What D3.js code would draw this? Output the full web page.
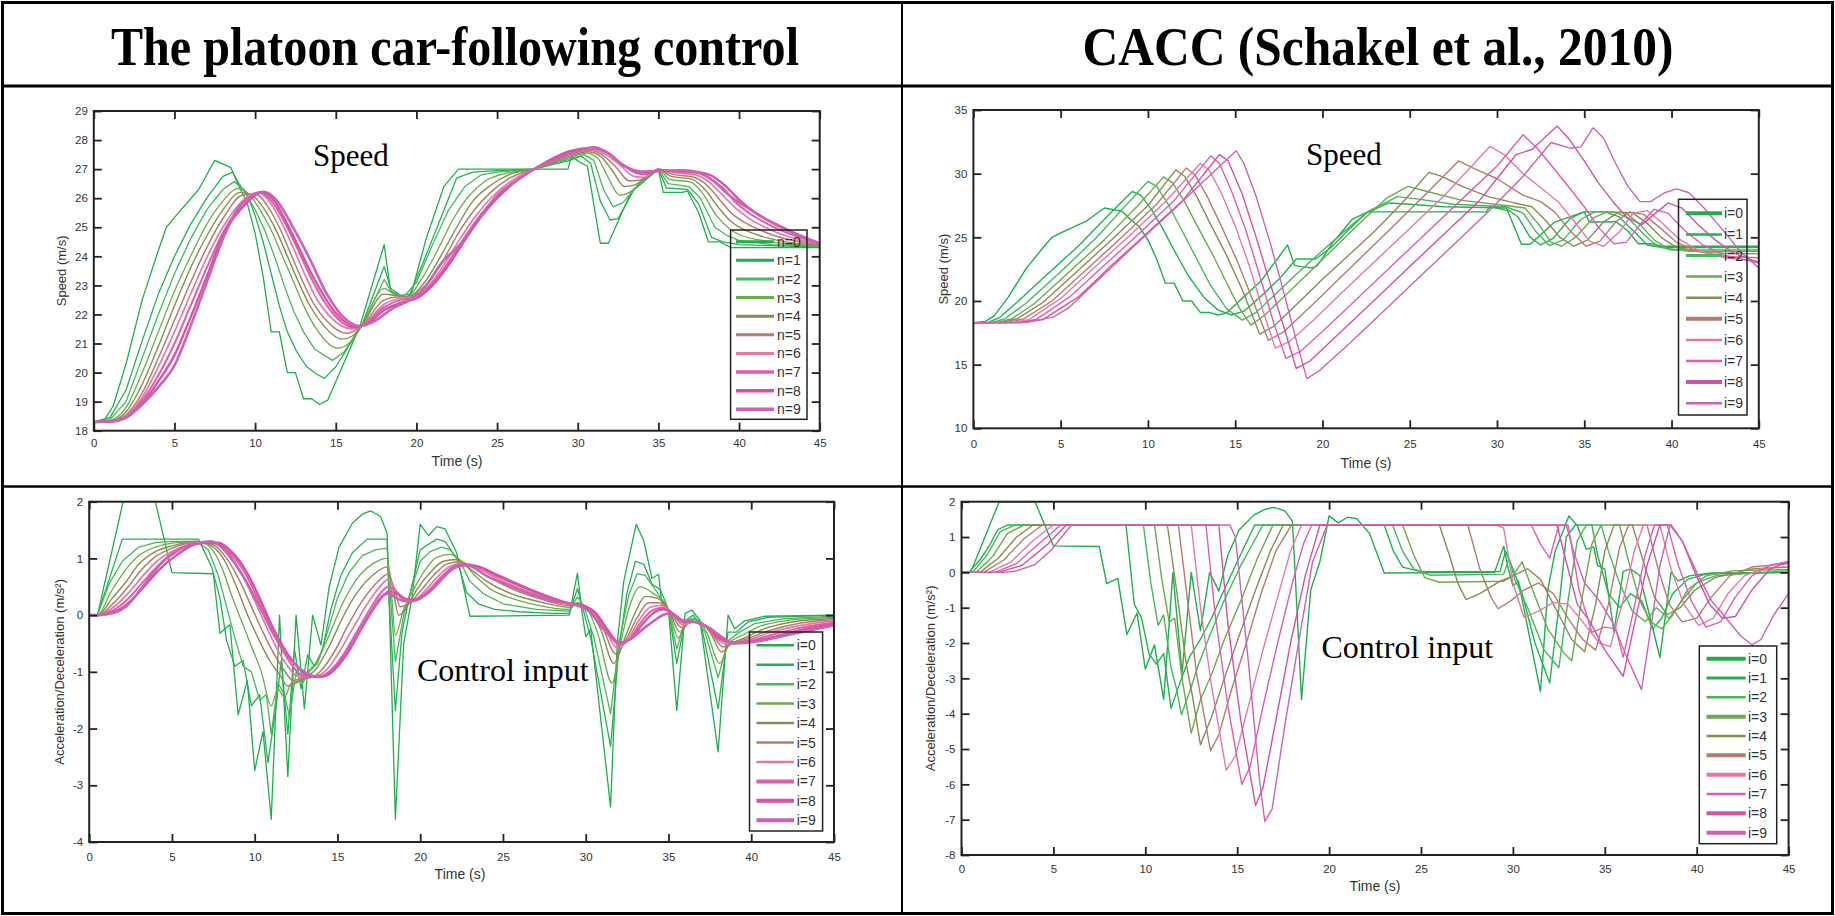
<!DOCTYPE html>
<html>
<head>
<meta charset="utf-8">
<script src="https://cdn.jsdelivr.net/npm/d3@7"></script>
<style>
  body { margin: 0; background: #fff; }
  svg { display: block; }
</style>
</head>
<body>
<svg id="chart" width="1835" height="916"></svg>
<script>
// ---------------- DATA ----------------
const titles = ["The platoon car-following control", "CACC (Schakel et al., 2010)"];
const timeTicks = [0, 5, 10, 15, 20, 25, 30, 35, 40, 45];
const speedTicksPlatoon = [18, 19, 20, 21, 22, 23, 24, 25, 26, 27, 28, 29];
const speedTicksCacc = [10, 15, 20, 25, 30, 35];
const accTicksPlatoon = [-4, -3, -2, -1, 0, 1, 2];
const accTicksCacc = [-8, -7, -6, -5, -4, -3, -2, -1, 0, 1, 2];
const labelsN = ["n=0","n=1","n=2","n=3","n=4","n=5","n=6","n=7","n=8","n=9"];
const labelsI = ["i=0","i=1","i=2","i=3","i=4","i=5","i=6","i=7","i=8","i=9"];

// leader (vehicle 0) speed, m/s, [time s, value]
const leaderSpeed = [[0,18.3],[0.7,18.4],[1.2,18.85],[2,20.3],[3,22.5],[4,24.2],[4.5,25.0],[5.1,25.4],[6.5,26.3],[7.5,27.3],[8.5,27.05],[9,26.4],[9.5,25.85],[10,24.8],[10.5,23.3],[11,21.4],[11.5,21.4],[12,20.0],[12.5,20.0],[13,19.1],[13.5,19.1],[14,18.9],[14.5,19.05],[16.5,21.6],[18,24.4],[18.4,22.8],[18.8,22.7],[19.4,22.6],[19.7,22.75],[20.6,24.6],[21.7,26.4],[22.6,27.0],[29.4,27.0],[29.6,27.45],[30.1,27.25],[30.6,27.1],[31.4,24.45],[31.9,24.45],[32.5,25.2],[33.3,26.2],[35,27.0],[35.3,26.2],[36.5,26.2],[36.8,26.25],[37.5,25.5],[38.1,24.5],[38.8,24.5],[39.5,24.3],[45,24.3]];
// leader acceleration, m/s^2
const leaderAccel = [[0,0],[0.5,0],[2.05,2.0],[4.0,2.0],[5.0,0.75],[7.5,0.73],[7.9,-0.32],[8.5,-0.17],[9.0,-1.76],[9.55,-1.15],[10.0,-2.74],[10.5,-2.05],[11.0,-3.6],[11.5,0],[12.0,-2.85],[12.5,0],[13.0,-1.65],[13.5,0],[14.0,-0.53],[14.5,0.5],[15.1,1.2],[15.9,1.62],[16.5,1.78],[17.0,1.84],[17.6,1.74],[18.0,1.45],[18.1,0.5],[18.5,-3.6],[19.0,-0.5],[19.5,0.3],[20.0,1.6],[20.5,1.4],[21.0,1.56],[21.5,1.52],[22.2,1.1],[23.0,-0.02],[29.0,0],[29.5,0.74],[29.75,0.1],[30.0,-0.38],[30.3,-0.25],[31.5,-3.38],[31.9,-0.5],[32.3,0.6],[33.05,1.6],[33.5,1.32],[34.0,0.65],[34.4,0.72],[34.6,0.2],[35.0,0.09],[35.5,-1.68],[36.0,0.03],[36.4,0.09],[36.9,-0.09],[38.0,-2.41],[38.6,0],[39.0,-0.24],[39.6,-0.1],[40.8,-0.02],[45,0]];

// Platoon control: speed of followers n=1..9
const tlN1 = [[0,18.3],[1,18.45],[2,19.4],[3,21.1],[4,22.7],[5,24.0],[6,25.1],[7,26.0],[8,26.75],[8.6,26.9],[9,26.5],[9.6,26.0],[10,25.4],[10.5,24.5],[11,23.4],[11.5,22.3],[12,21.4],[12.6,20.7],[13.2,20.2],[13.8,19.95],[14.3,19.8],[15,20.2],[16.6,21.6],[18,23.65],[18.4,22.9],[19,22.65],[19.6,22.7],[20.5,23.9],[21.5,25.3],[22.5,26.7],[23.5,26.9],[25,26.95],[27.3,27.0],[29.5,27.3],[30.2,27.45],[30.8,27.2],[31.4,25.9],[32,25.25],[32.5,25.3],[33.5,26.3],[35,27.0],[35.5,26.35],[36.8,26.3],[37.5,25.8],[38.3,24.65],[39,24.5],[40,24.4],[45,24.32]];
const tlN2 = [[0,18.3],[1,18.38],[2,19.0],[3,20.5],[4,22.0],[5,23.4],[6,24.6],[7,25.6],[8,26.3],[8.7,26.57],[9.3,26.3],[10,25.6],[10.6,24.9],[11.2,24.0],[11.8,23.0],[12.4,22.1],[13,21.4],[13.7,20.8],[14.8,20.42],[15.5,20.7],[16.6,21.6],[18,23.2],[18.5,22.75],[19.2,22.6],[20,23.1],[21,24.4],[22,25.6],[23,26.4],[24,26.8],[25,26.9],[27.3,27.0],[29.5,27.35],[30.4,27.5],[31,27.3],[31.6,26.3],[32.2,25.7],[32.8,25.85],[33.8,26.5],[35,27.0],[35.6,26.5],[36.9,26.4],[37.6,26.0],[38.5,25.0],[39.3,24.7],[40,24.55],[42,24.4],[45,24.34]];
const tlN3 = [[0,18.3],[1,18.35],[2,18.8],[3,20.0],[4,21.4],[5,22.8],[6,24.0],[7,25.1],[8,25.9],[8.9,26.33],[9.6,26.15],[10.3,25.6],[11,24.9],[11.7,24.0],[12.4,23.1],[13.1,22.2],[13.8,21.5],[15.1,20.84],[15.8,21.0],[16.6,21.6],[18,22.9],[18.6,22.7],[19.4,22.6],[20.3,23.2],[21.3,24.2],[22.3,25.3],[23.3,26.1],[24.3,26.6],[25.5,26.85],[27.3,27.0],[29.5,27.4],[30.5,27.55],[31.2,27.4],[31.9,26.7],[32.6,26.1],[33.2,26.2],[34.1,26.65],[35,27.0],[35.7,26.65],[37,26.55],[37.7,26.2],[38.6,25.4],[39.4,24.95],[40,24.75],[42,24.5],[45,24.36]];
const tlN4 = [[0,18.3],[1,18.33],[2,18.65],[3,19.6],[4,20.9],[5,22.3],[6,23.6],[7,24.7],[8,25.6],[9.1,26.2],[9.8,26.1],[10.6,25.6],[11.3,24.9],[12,24.0],[12.7,23.1],[13.4,22.3],[14.2,21.65],[15.4,21.15],[16,21.25],[16.6,21.6],[18,22.7],[18.7,22.65],[19.5,22.6],[20.5,23.1],[21.5,24.0],[22.5,25.0],[23.5,25.9],[24.5,26.4],[25.7,26.8],[27.3,27.0],[29.5,27.45],[30.6,27.6],[31.4,27.45],[32.2,26.9],[32.9,26.4],[33.5,26.45],[34.3,26.75],[35,27.0],[35.8,26.75],[37.1,26.65],[37.8,26.35],[38.7,25.7],[39.5,25.2],[40.2,24.95],[42,24.6],[45,24.38]];
const tlN5 = [[0,18.3],[1,18.32],[2,18.55],[3,19.3],[4,20.5],[5,21.8],[6,23.1],[7,24.3],[8,25.3],[9.2,26.1],[10,26.15],[10.8,25.7],[11.5,25.0],[12.2,24.1],[12.9,23.2],[13.6,22.4],[14.4,21.8],[15.7,21.35],[16.6,21.6],[18,22.5],[18.8,22.6],[19.6,22.6],[20.6,23.0],[21.6,23.8],[22.6,24.8],[23.6,25.6],[24.6,26.2],[25.8,26.7],[27.3,27.0],[29.5,27.5],[30.7,27.65],[31.5,27.5],[32.4,27.05],[33.2,26.6],[33.8,26.62],[34.5,26.82],[35,27.0],[35.9,26.82],[37.2,26.72],[37.9,26.5],[38.8,25.95],[39.6,25.45],[40.4,25.15],[42,24.75],[45,24.4]];
const tlN6 = [[0,18.3],[1,18.31],[2,18.5],[3,19.15],[4,20.2],[5,21.4],[6,22.7],[7,23.95],[8,25.0],[9.3,25.95],[10.2,26.2],[11,25.8],[11.7,25.1],[12.4,24.25],[13.1,23.35],[13.8,22.55],[14.6,21.95],[16,21.5],[16.6,21.6],[18,22.35],[18.9,22.55],[19.7,22.6],[20.7,22.95],[21.7,23.7],[22.7,24.6],[23.7,25.4],[24.7,26.05],[25.9,26.6],[27.3,27.0],[29.5,27.55],[30.8,27.68],[31.6,27.55],[32.6,27.15],[33.5,26.75],[34.1,26.72],[34.6,26.88],[35,27.0],[36,26.88],[37.3,26.8],[38,26.62],[38.9,26.15],[39.7,25.7],[40.5,25.35],[42,24.9],[45,24.42]];
const tlN7 = [[0,18.3],[1,18.31],[2,18.47],[3,19.05],[4,19.9],[5,21.0],[6,22.3],[7,23.6],[8,24.8],[9.4,25.9],[10.3,26.2],[11.1,25.85],[11.9,25.1],[12.6,24.3],[13.3,23.45],[14,22.7],[14.8,22.05],[16.1,21.55],[16.6,21.6],[18,22.25],[19,22.5],[19.8,22.58],[20.8,22.95],[21.8,23.65],[22.8,24.5],[23.8,25.3],[24.8,25.95],[26,26.55],[27.3,27.0],[29.5,27.6],[30.9,27.72],[31.7,27.6],[32.7,27.2],[33.7,26.85],[34.3,26.82],[34.7,26.92],[35,26.98],[36,26.92],[37.4,26.87],[38.1,26.72],[39,26.35],[39.8,25.85],[40.6,25.5],[42,25.05],[45,24.43]];
const tlN8 = [[0,18.3],[1,18.31],[2,18.45],[3,18.95],[4,19.7],[5,20.6],[6,21.9],[7,23.3],[8,24.7],[9.5,25.85],[10.4,26.2],[11.2,25.9],[12,25.1],[12.8,24.2],[13.5,23.4],[14.2,22.7],[15,22.05],[16.3,21.58],[17,21.7],[18,22.15],[19,22.4],[20,22.55],[21,23.0],[22,23.7],[23,24.55],[24,25.35],[25,26.0],[26.1,26.55],[27.3,27.0],[29.5,27.62],[31,27.74],[31.8,27.58],[32.8,27.15],[33.8,26.9],[34.5,26.88],[35,26.95],[36,26.95],[37.5,26.9],[38.2,26.8],[39.1,26.45],[40,25.95],[41,25.5],[42.5,25.05],[45,24.44]];
const tlN9 = [[0,18.3],[1,18.32],[2,18.45],[3,18.9],[4,19.5],[5,20.25],[6,21.6],[7,23.1],[8,24.6],[9,25.7],[10,26.15],[10.5,26.22],[11.3,25.95],[12.3,25.05],[13.4,23.9],[14.4,22.75],[15.4,21.95],[16.5,21.6],[17.5,21.8],[18.5,22.2],[19.6,22.5],[20.6,23.0],[21.6,23.8],[22.7,24.4],[24,25.4],[25,26.1],[26.2,26.6],[27.3,27.0],[28.5,27.3],[30,27.62],[31,27.75],[31.9,27.55],[32.9,27.1],[33.9,26.92],[35,26.93],[36.5,26.96],[37.5,26.88],[38.5,26.55],[39.5,26.05],[40.6,25.65],[42.3,25.08],[44.1,24.63],[45,24.45]];

// CACC: speed of followers i=1..9
const trI1 = [[0,18.3],[0.8,18.3],[1.5,18.7],[2.5,19.9],[4,21.8],[6,24.3],[8,27.1],[9.1,28.6],[9.6,28.3],[10.2,27.2],[10.8,25.8],[11.5,24.0],[12.3,22.0],[13.2,20.3],[14,19.3],[14.8,18.9],[15.5,19.2],[16.5,20.4],[17.5,21.7],[18.5,23.3],[19.6,23.3],[20.5,24.2],[21.5,25.6],[22.5,26.9],[23.8,27.7],[25,27.6],[27,27.4],[30.5,27.3],[31.2,26.6],[31.9,25.0],[32.5,24.4],[33.2,24.9],[34.2,26.5],[35,27.0],[36.2,27.0],[37,26.6],[37.9,25.4],[38.6,24.4],[39.5,24.2],[45,24.2]];
const trI2 = [[0,18.3],[1.0,18.3],[1.8,18.6],[3,19.8],[5,22.3],[7,24.9],[9,27.9],[10.0,29.4],[10.5,29.0],[11.2,27.5],[12,25.4],[12.8,23.3],[13.6,21.2],[14.5,19.4],[15.4,18.5],[16.2,19.1],[17.2,20.4],[18.5,22.1],[19.7,23.6],[20.7,24.8],[21.7,26.0],[22.7,27.1],[24.3,28.2],[25.5,28.0],[27.5,27.6],[30.5,27.4],[31.5,26.9],[32.2,25.5],[33,24.35],[33.8,24.8],[34.8,26.4],[35.6,27.0],[36.8,27.0],[37.6,26.4],[38.5,25.1],[39.2,24.3],[40,24.0],[45,24.0]];
const trI3 = [[0,18.3],[1.3,18.3],[2.2,18.6],[3.5,19.8],[5.5,22.3],[7.5,24.8],[9.5,27.6],[10.9,29.75],[11.4,29.3],[12.1,27.8],[12.9,25.7],[13.8,23.4],[14.7,20.9],[15.3,19.3],[15.9,18.1],[16.7,18.9],[18,20.6],[19.5,22.6],[21,24.6],[22.5,26.6],[23.7,28.1],[24.9,29.0],[26,28.6],[28,27.9],[30.5,27.5],[31.6,27.3],[32.4,26.0],[33.1,24.6],[33.7,24.3],[34.5,25.0],[35.5,26.5],[36.3,27.0],[37.4,26.9],[38.2,26.0],[39,24.8],[39.8,24.1],[41,23.9],[45,23.9]];
const trI4 = [[0,18.3],[1.6,18.3],[2.5,18.6],[4,19.9],[6,22.4],[8,24.9],[10,27.5],[11.6,30.3],[12.1,29.8],[12.8,28.2],[13.6,26.0],[14.5,23.6],[15.4,20.9],[16.4,17.4],[17.2,18.0],[18.5,19.7],[20,21.7],[21.5,23.6],[23,25.5],[24.5,27.6],[26.1,30.1],[26.8,29.8],[28,29.0],[29.5,28.2],[31,27.7],[32,27.4],[32.8,26.3],[33.6,25.0],[34.4,24.3],[35.2,24.8],[36.1,26.2],[37,27.0],[37.8,26.9],[38.6,26.1],[39.4,25.0],[40.3,24.2],[42,23.8],[45,23.7]];
const trI5 = [[0,18.3],[1.9,18.3],[2.9,18.6],[4.5,20.0],[6.5,22.5],[8.5,25.0],[10.5,27.6],[12.2,30.45],[12.7,29.9],[13.4,28.2],[14.2,25.9],[15.1,23.2],[16,20.1],[16.9,16.9],[17.8,17.6],[19.5,19.8],[21,21.8],[22.5,23.8],[24,25.8],[26,28.5],[27.8,31.0],[28.7,30.4],[30,29.6],[31.5,28.3],[32.5,27.8],[33.3,27.0],[34.2,25.5],[35.1,24.3],[35.9,24.7],[36.8,26.2],[37.6,27.0],[38.4,26.8],[39.3,25.8],[40.3,24.6],[41.5,23.9],[43,23.5],[45,23.4]];
const trI6 = [[0,18.3],[2.2,18.3],[3.2,18.55],[5,20.2],[7,22.7],[9,25.2],[11,27.8],[13.0,30.8],[13.5,30.3],[14.2,28.5],[15,25.9],[15.8,22.8],[16.6,19.2],[17.3,16.3],[18.1,16.8],[19.5,18.5],[21,20.5],[23,23.1],[25,25.7],[27,28.3],[29.6,32.15],[30.4,31.5],[31.5,30.0],[32.6,28.8],[33.5,27.8],[34.4,26.3],[35.3,24.7],[36.1,24.3],[37,25.4],[37.8,26.9],[38.6,27.1],[39.4,26.2],[40.4,24.9],[41.5,24.0],[43,23.4],[45,23.1]];
const trI7 = [[0,18.3],[2.5,18.3],[3.6,18.55],[5.5,20.3],[7.5,22.8],[9.5,25.3],[11.5,27.9],[13.6,31.4],[14.1,30.8],[14.8,28.6],[15.6,25.6],[16.4,22.0],[17.2,18.3],[17.9,15.5],[18.7,16.0],[20,17.6],[22,20.2],[24,22.8],[26,25.4],[28,28.0],[30,30.6],[31.5,33.06],[32.3,32.0],[33.2,30.5],[34.2,28.8],[35,27.4],[35.8,25.8],[36.7,24.5],[37.4,24.6],[38.2,26.0],[39,27.2],[39.8,26.9],[40.7,25.6],[41.8,24.4],[43,23.6],[45,23.0]];
const trI8 = [[0,18.3],[2.8,18.3],[4,18.55],[6,20.3],[8,22.9],[10,25.4],[12,27.9],[14.1,31.5],[14.6,31.0],[15.4,28.4],[16.2,25.0],[17,21.4],[17.8,17.9],[18.5,14.7],[19.3,15.3],[21,17.5],[23,20.1],[25,22.7],[27,25.3],[29,27.9],[31.1,31.5],[32.0,31.9],[33.45,33.74],[34.2,32.6],[35,31.0],[35.8,29.3],[36.7,27.7],[37.5,26.5],[38.3,26.0],[39,26.8],[39.8,27.7],[40.6,27.3],[41.5,26.0],[42.5,24.8],[43.5,23.8],[45,23.0]];
const trI9 = [[0,18.3],[3.0,18.3],[4.6,18.75],[5.5,19.5],[7.5,22.1],[9.5,24.7],[11.5,27.2],[13.5,29.8],[15.06,31.8],[15.5,30.8],[16.2,28.2],[17,24.6],[17.8,20.6],[18.5,16.9],[19.1,13.9],[19.8,14.5],[21.5,16.6],[23.5,19.2],[25.5,21.8],[27.5,24.4],[29.5,27.0],[31.5,29.8],[33.1,32.45],[34.2,32.0],[34.8,32.1],[35.5,33.6],[36.1,32.8],[36.8,30.8],[37.5,29.0],[38.2,27.8],[38.8,27.8],[39.6,28.5],[40.3,28.8],[41,28.5],[41.8,27.4],[42.8,25.8],[44,23.8],[45,22.6]];

// Platoon control: control input of followers i=1..9
const blI1 = [[0,0],[0.5,0],[2.0,1.34],[6.6,1.34],[7.4,0.85],[7.9,0.3],[8.3,-0.45],[8.8,-0.9],[9.3,-0.8],[9.8,-1.6],[10.3,-1.4],[10.8,-2.6],[11.3,-1.6],[11.6,-0.8],[12.0,-2.1],[12.4,-0.6],[12.8,-1.3],[13.2,-0.7],[13.6,-0.9],[14.1,-0.6],[14.6,0.1],[15.2,0.7],[15.9,1.1],[16.8,1.34],[18.0,1.34],[18.1,0.4],[18.5,-1.68],[18.9,-0.3],[19.4,0.4],[20,1.15],[20.5,1.25],[21,1.34],[21.5,1.3],[22.2,1.0],[22.8,0.4],[23.5,0.2],[24.5,0.1],[26,0.06],[28,0.03],[29.0,0.03],[29.5,0.47],[29.8,0.15],[30.3,-0.4],[31.5,-2.32],[32.0,-0.6],[32.5,0.4],[33.0,0.95],[33.5,0.9],[34.0,0.55],[34.5,0.45],[35.0,0.1],[35.5,-0.85],[36.0,-0.1],[36.5,0.0],[37.0,-0.2],[38.0,-1.65],[38.6,-0.3],[39.1,-0.3],[39.8,-0.12],[41,-0.04],[45,0]];
const blI2 = [[0,0],[0.5,0],[1.2,0.55],[2,0.95],[3,1.2],[4,1.28],[5,1.3],[6.5,1.3],[7.2,1.15],[7.8,0.7],[8.3,0.15],[8.8,-0.4],[9.3,-0.9],[9.8,-1.0],[10.3,-1.5],[10.7,-1.4],[11.0,-2.1],[11.4,-1.2],[11.8,-1.4],[12.1,-1.8],[12.5,-1.0],[12.9,-1.2],[13.3,-1.0],[13.8,-0.85],[14.4,-0.3],[15,0.3],[15.7,0.75],[16.5,1.05],[17.3,1.15],[18.0,1.18],[18.15,0.5],[18.5,-0.82],[19,0.0],[19.5,0.5],[20,0.95],[20.6,1.12],[21.3,1.2],[21.8,1.15],[22.4,0.95],[23,0.6],[23.8,0.38],[25,0.2],[27,0.1],[29,0.07],[29.5,0.32],[29.9,0.15],[30.5,-0.4],[31.5,-1.74],[32.0,-0.5],[32.6,0.35],[33.1,0.73],[33.6,0.7],[34.2,0.45],[35.0,0.1],[35.5,-0.6],[36.0,-0.1],[36.6,-0.05],[37.2,-0.3],[38.0,-1.1],[38.6,-0.45],[39.3,-0.3],[40.2,-0.15],[42,-0.06],[45,-0.02]];
const blI3 = [[0,0],[0.5,0],[1.3,0.4],[2,0.72],[3,1.05],[4,1.2],[5,1.27],[6.5,1.3],[7.3,1.2],[8,0.85],[8.6,0.35],[9.2,-0.1],[9.8,-0.55],[10.4,-1.0],[11.0,-1.6],[11.4,-1.3],[11.8,-1.45],[12.2,-1.2],[12.7,-1.15],[13.2,-1.0],[13.8,-0.8],[14.5,-0.35],[15.3,0.2],[16.2,0.65],[17.1,0.9],[18.0,1.0],[18.2,0.6],[18.5,-0.35],[19.0,0.1],[19.6,0.45],[20.3,0.8],[21,1.02],[21.8,1.07],[22.5,0.95],[23.3,0.7],[24.3,0.45],[25.5,0.3],[27,0.18],[29,0.1],[29.5,0.22],[30,0.15],[30.7,-0.3],[31.6,-1.2],[32.1,-0.5],[32.7,0.2],[33.3,0.5],[34,0.4],[35.0,0.1],[35.6,-0.4],[36.1,-0.1],[36.7,-0.08],[37.3,-0.3],[38.1,-0.85],[38.7,-0.48],[39.5,-0.35],[40.5,-0.2],[42,-0.1],[45,-0.04]];
const blI4 = [[0,0],[0.5,0],[1.4,0.3],[2.2,0.58],[3,0.9],[4,1.12],[5,1.22],[6.5,1.3],[7.4,1.22],[8.2,0.95],[8.9,0.5],[9.5,0.05],[10.2,-0.4],[10.9,-0.8],[11.5,-1.05],[12,-1.25],[12.5,-1.2],[13.1,-1.1],[13.7,-0.95],[14.5,-0.55],[15.3,-0.05],[16.2,0.4],[17.2,0.72],[18.0,0.85],[18.3,0.55],[18.7,0.0],[19.2,0.15],[19.8,0.45],[20.6,0.75],[21.4,0.95],[22.2,0.98],[23,0.82],[24,0.6],[25.3,0.4],[27,0.25],[29,0.14],[29.6,0.2],[30.2,0.1],[30.9,-0.25],[31.7,-0.85],[32.3,-0.45],[33,0.05],[33.6,0.33],[34.3,0.3],[35.0,0.1],[35.7,-0.3],[36.3,-0.12],[36.9,-0.12],[37.6,-0.35],[38.2,-0.65],[38.8,-0.5],[39.6,-0.4],[40.7,-0.25],[42.5,-0.12],[45,-0.06]];
const blI5 = [[0,0],[0.5,0],[1.5,0.22],[2.3,0.48],[3.1,0.78],[4,1.03],[5,1.18],[6.5,1.29],[7.5,1.24],[8.3,1.0],[9.1,0.6],[9.8,0.15],[10.5,-0.3],[11.2,-0.7],[11.8,-0.98],[12.3,-1.15],[12.8,-1.12],[13.4,-1.1],[14,-0.98],[14.8,-0.65],[15.6,-0.2],[16.5,0.25],[17.4,0.58],[18.05,0.72],[18.4,0.5],[18.8,0.15],[19.3,0.2],[20,0.42],[20.8,0.7],[21.6,0.9],[22.4,0.94],[23.2,0.84],[24.2,0.66],[25.5,0.47],[27,0.31],[29,0.17],[29.6,0.19],[30.3,0.08],[31,-0.2],[31.8,-0.68],[32.4,-0.45],[33.1,-0.05],[33.8,0.22],[34.4,0.22],[35.0,0.1],[35.8,-0.22],[36.4,-0.12],[37,-0.14],[37.7,-0.36],[38.3,-0.56],[38.9,-0.5],[39.7,-0.42],[41,-0.28],[43,-0.14],[45,-0.08]];
const blI6 = [[0,0],[0.5,0],[1.6,0.17],[2.4,0.4],[3.2,0.68],[4.1,0.95],[5,1.12],[6.5,1.28],[7.6,1.26],[8.4,1.05],[9.3,0.68],[10,0.25],[10.7,-0.2],[11.4,-0.62],[12,-0.9],[12.6,-1.08],[13.1,-1.08],[13.7,-1.07],[14.3,-0.98],[15,-0.7],[15.8,-0.3],[16.7,0.15],[17.5,0.48],[18.05,0.62],[18.5,0.45],[19,0.25],[19.5,0.25],[20.2,0.4],[21,0.66],[21.8,0.86],[22.5,0.91],[23.3,0.85],[24.3,0.7],[25.6,0.52],[27,0.36],[29,0.19],[29.7,0.18],[30.4,0.06],[31.1,-0.2],[31.9,-0.58],[32.5,-0.45],[33.2,-0.1],[33.9,0.14],[34.5,0.17],[35.0,0.1],[35.9,-0.17],[36.5,-0.12],[37.1,-0.16],[37.8,-0.38],[38.4,-0.5],[39,-0.49],[39.8,-0.44],[41,-0.32],[43,-0.18],[45,-0.1]];
const blI7 = [[0,0],[0.5,0],[1.7,0.13],[2.5,0.33],[3.3,0.6],[4.2,0.88],[5.1,1.08],[6.5,1.27],[7.7,1.27],[8.5,1.1],[9.4,0.75],[10.2,0.28],[10.9,-0.18],[11.6,-0.58],[12.2,-0.86],[12.8,-1.05],[13.4,-1.09],[14,-1.08],[14.6,-0.98],[15.3,-0.72],[16.1,-0.33],[17,0.12],[17.7,0.42],[18.05,0.5],[18.6,0.4],[19.1,0.28],[19.6,0.27],[20.3,0.38],[21.1,0.62],[21.9,0.84],[22.6,0.9],[23.4,0.86],[24.4,0.72],[25.7,0.55],[27,0.39],[29,0.2],[29.7,0.18],[30.5,0.05],[31.2,-0.22],[32.0,-0.52],[32.6,-0.44],[33.3,-0.14],[34,0.08],[34.6,0.13],[35.0,0.08],[35.9,-0.13],[36.5,-0.12],[37.2,-0.18],[37.9,-0.38],[38.5,-0.47],[39.1,-0.48],[40,-0.45],[41.2,-0.35],[43,-0.22],[45,-0.13]];
const blI8 = [[0,0],[0.5,0],[1.8,0.1],[2.6,0.28],[3.4,0.53],[4.3,0.82],[5.2,1.04],[6.6,1.26],[7.8,1.28],[8.6,1.12],[9.5,0.77],[10.3,0.3],[11.0,-0.16],[11.7,-0.55],[12.4,-0.85],[13,-1.03],[13.6,-1.09],[14.2,-1.08],[14.8,-0.97],[15.5,-0.72],[16.3,-0.32],[17.2,0.12],[17.9,0.38],[18.1,0.42],[18.7,0.36],[19.2,0.28],[19.7,0.27],[20.4,0.37],[21.2,0.6],[22,0.82],[22.7,0.89],[23.5,0.86],[24.5,0.73],[25.8,0.56],[27,0.41],[29,0.21],[29.8,0.17],[30.6,0.04],[31.3,-0.25],[32.0,-0.48],[32.7,-0.43],[33.4,-0.17],[34.1,0.04],[34.7,0.1],[35.1,0.06],[36,-0.11],[36.6,-0.12],[37.3,-0.2],[38,-0.39],[38.7,-0.47],[39.3,-0.48],[40.2,-0.46],[41.4,-0.38],[43,-0.26],[45,-0.16]];
const blI9 = [[0,0],[0.5,0],[1.5,0.04],[2.4,0.2],[3.1,0.45],[3.8,0.72],[4.5,0.96],[5.25,1.13],[6.55,1.27],[7.36,1.3],[8.27,1.13],[9.27,0.7],[10.3,0.15],[11.3,-0.42],[12.3,-0.82],[13.3,-1.05],[13.9,-1.09],[14.7,-0.95],[15.9,-0.5],[16.9,0.0],[18.0,0.38],[18.9,0.26],[19.6,0.25],[20.75,0.47],[21.96,0.82],[22.8,0.88],[24.1,0.68],[26.1,0.44],[28.1,0.24],[29.1,0.2],[30.1,0.09],[31.3,-0.32],[32.1,-0.5],[32.75,-0.41],[33.75,-0.18],[35.0,0.03],[35.8,-0.09],[36.6,-0.12],[37.4,-0.21],[38.2,-0.38],[39.0,-0.5],[40.2,-0.47],[42.2,-0.35],[45,-0.18]];

// CACC: control input of followers i=1..9
const brI1 = [[0,0],[0.4,0],[1.0,0.35],[1.5,0.74],[1.96,1.2],[2.5,1.34],[8.95,1.34],[9.4,-0.9],[9.8,-1.3],[10.2,-2.3],[10.6,-2.6],[11.0,-2.3],[11.4,-3.85],[11.9,-3.1],[12.4,-2.4],[13.0,-1.9],[13.6,-1.3],[14.2,-0.6],[15,0.3],[15.95,1.34],[23.0,1.34],[23.5,0.6],[24,0.15],[25,0.02],[29.3,0.02],[29.6,0.6],[30,0.1],[30.5,-0.6],[31.2,-2.0],[32.0,-3.13],[32.5,-1.0],[32.9,1.0],[33.4,1.34],[34.3,1.34],[34.6,0.5],[35.2,-0.6],[35.8,-1.0],[36.4,-0.6],[37,-0.8],[37.6,-1.6],[38.1,-1.3],[38.7,-0.6],[39.5,-0.2],[40.5,-0.05],[45,0]];
const brI2 = [[0,0],[0.6,0],[1.4,0.5],[2.1,1.15],[2.9,1.34],[9.9,1.34],[10.3,-0.3],[10.7,-1.5],[11.0,-1.2],[11.4,-2.7],[11.7,-3.3],[11.96,-4.03],[12.4,-3.4],[12.9,-2.6],[13.5,-1.8],[14.2,-0.9],[15.2,0.2],[16.4,1.34],[23.45,1.34],[24.0,0.6],[24.6,0.1],[25.5,-0.08],[29.5,-0.05],[29.8,0.4],[30.1,-0.2],[30.8,-1.0],[31.7,-2.2],[32.5,-2.7],[33.0,-0.8],[33.5,0.9],[34.0,1.34],[34.8,1.34],[35.2,0.6],[35.8,-0.3],[36.5,-1.1],[37.2,-1.4],[37.8,-1.0],[38.5,-1.3],[39.2,-0.8],[40,-0.3],[41,-0.1],[45,0.05]];
const brI3 = [[0,0],[0.8,0],[1.7,0.45],[2.5,1.1],[3.4,1.34],[10.5,1.34],[10.9,-0.2],[11.3,-1.4],[11.6,-1.3],[12.0,-3.0],[12.5,-4.55],[13.0,-3.6],[13.6,-2.9],[14.3,-1.9],[15.2,-0.8],[16.1,0.4],[16.95,1.34],[24.0,1.34],[24.6,0.5],[25.2,-0.15],[26,-0.28],[29.5,-0.25],[30,-0.1],[30.5,0.3],[31,-0.4],[31.9,-1.6],[32.8,-2.3],[33.2,-2.5],[33.7,-0.9],[34.3,0.8],[34.8,1.34],[35.8,1.34],[36.3,0.3],[36.9,-0.8],[37.5,-1.4],[38.1,-1.6],[38.7,-1.2],[39.5,-0.5],[40.5,-0.1],[42,0.05],[45,0.08]];
const brI4 = [[0,0],[1.0,0],[2.0,0.4],[3.0,1.0],[3.9,1.34],[11.2,1.34],[11.7,-0.5],[12.2,-2.5],[12.6,-3.6],[13.0,-4.88],[13.6,-4.1],[14.3,-3.0],[15.1,-1.8],[16.0,-0.5],[16.8,0.6],[17.5,1.34],[26.0,1.34],[26.6,0.4],[27.0,-0.3],[27.45,-0.77],[28.2,-0.6],[29.3,-0.25],[30,-0.1],[30.8,0.1],[31.5,-0.2],[32.4,-1.1],[33.2,-1.9],[33.9,-2.25],[34.5,-0.9],[35.0,0.6],[35.5,1.34],[36.5,1.34],[37.1,0.3],[37.7,-0.7],[38.4,-1.2],[39.1,-1.0],[39.9,-0.5],[41,-0.15],[43,0.1],[45,0.15]];
const brI5 = [[0,0],[1.2,0],[2.3,0.35],[3.4,0.95],[4.4,1.34],[11.8,1.34],[12.3,-0.8],[12.8,-2.9],[13.55,-5.05],[14.0,-4.6],[14.7,-3.3],[15.5,-2.0],[16.3,-0.6],[17.1,0.6],[17.95,1.34],[27.55,1.34],[28.2,0.1],[28.8,-0.7],[29.2,-1.03],[29.9,-0.8],[30.6,-0.5],[31.4,-0.3],[32.2,-0.6],[33.0,-1.3],[33.8,-1.9],[34.5,-2.2],[35.2,-0.9],[35.8,0.7],[36.3,1.34],[37.3,1.34],[37.9,0.1],[38.5,-0.9],[39.2,-1.4],[40,-1.3],[40.8,-0.7],[41.8,-0.1],[43,0.15],[45,0.25]];
const brI6 = [[0,0],[1.5,0],[2.7,0.3],[3.9,0.9],[5.0,1.34],[12.5,1.34],[13.0,-1.0],[13.6,-3.2],[14.4,-5.6],[14.9,-5.2],[15.6,-3.8],[16.4,-2.2],[17.2,-0.7],[17.9,0.6],[18.5,1.34],[29.1,1.34],[29.5,1.25],[30.0,-0.3],[30.6,-1.27],[31.4,-1.1],[32.2,-0.85],[33.0,-0.9],[33.8,-1.4],[34.7,-2.0],[35.3,-2.1],[36.0,-0.8],[36.6,0.6],[37.1,1.34],[38.0,1.34],[38.6,0.1],[39.3,-0.9],[40.1,-1.5],[40.9,-1.3],[41.7,-0.6],[42.6,-0.1],[44,0.2],[45,0.3]];
const brI7 = [[0,0],[1.8,0],[3.0,0.25],[4.3,0.85],[5.4,1.34],[13.3,1.34],[13.8,-1.2],[14.5,-3.8],[15.25,-6.0],[15.7,-5.5],[16.4,-3.8],[17.2,-2.0],[18.0,-0.3],[18.6,0.8],[19.05,1.34],[31.0,1.34],[31.5,0.8],[32.0,0.4],[32.5,1.34],[33.0,1.34],[33.6,-0.5],[34.3,-1.7],[35.0,-1.55],[35.6,-1.6],[36.0,-2.4],[36.6,-1.0],[37.2,0.5],[37.7,1.34],[38.4,1.34],[39.0,0.2],[39.7,-0.8],[40.5,-1.55],[41.3,-1.4],[42.1,-0.7],[43,-0.1],[44,0.2],[45,0.3]];
const brI8 = [[0,0],[2.0,0],[3.3,0.2],[4.7,0.8],[5.7,1.34],[14.0,1.34],[14.5,-1.5],[15.2,-4.2],[16.0,-6.6],[16.4,-6.1],[17.1,-4.2],[17.9,-2.0],[18.7,-0.1],[19.5,1.34],[32.4,1.34],[32.9,0.3],[33.5,-0.9],[34.2,-1.4],[35.0,-2.2],[36.0,-2.94],[36.6,-1.5],[37.3,0.2],[38.0,1.34],[38.6,1.34],[39.2,0.9],[39.9,0.0],[40.7,-0.9],[41.4,-1.3],[42.1,-1.25],[43,-0.5],[44,0.1],[45,0.3]];
const brI9 = [[0,0],[2.2,0],[2.9,0.03],[4.0,0.22],[4.9,0.64],[5.6,1.1],[6.0,1.34],[14.6,1.34],[14.9,1.0],[15.6,-2.5],[16.2,-5.8],[16.5,-7.05],[16.9,-6.7],[17.6,-4.3],[18.4,-1.8],[19.1,0.3],[19.9,1.34],[32.9,1.34],[33.3,0.6],[33.9,-0.3],[34.7,-0.8],[35.4,-1.4],[36.2,-2.4],[37.0,-3.32],[37.5,-1.6],[38.0,0.2],[38.55,1.34],[39.2,0.9],[40,0.0],[40.8,-0.8],[41.6,-1.3],[42.4,-1.8],[43.0,-2.05],[43.5,-1.9],[44.2,-1.2],[45,-0.6]];

// ---------------- STYLE ----------------
const colors = ["#20ae4c","#22b152","#45b85b","#6aab4b","#8a8a55","#b47b70","#e47aa4","#e05dae","#d352a3","#cb63b3"];
const serif = "'Liberation Serif','Times New Roman',serif";
const sans = "'Liberation Sans',Arial,Helvetica,sans-serif";

const svg = d3.select("#chart");
svg.append("rect").attr("width",1835).attr("height",916).attr("fill","#fff");

// table grid
svg.append("rect").attr("x",2.5).attr("y",2.5).attr("width",1830).attr("height",911)
  .attr("fill","none").attr("stroke","#000").attr("stroke-width",3);
svg.append("line").attr("x1",2).attr("x2",1833).attr("y1",86).attr("y2",86).attr("stroke","#000").attr("stroke-width",3);
svg.append("line").attr("x1",2).attr("x2",1833).attr("y1",486.5).attr("y2",486.5).attr("stroke","#000").attr("stroke-width",2.5);
svg.append("line").attr("x1",902).attr("x2",902).attr("y1",2).attr("y2",914).attr("stroke","#000").attr("stroke-width",2);

// titles
const titleSpec = [{x:455, w:688}, {x:1378, w:591}];
titles.forEach((t,i)=>{
  svg.append("text").attr("x",titleSpec[i].x).attr("y",65).attr("text-anchor","middle")
    .attr("textLength",titleSpec[i].w).attr("lengthAdjust","spacingAndGlyphs")
    .style("font-family",serif).style("font-weight","bold").style("font-size","54px").attr("fill","#000").text(t);
});

const panels = [
  { x0:93.8, x1:819.7, y0:111, y1:430.7, yDom:[18,29], yTicks:speedTicksPlatoon,
    series:[leaderSpeed,tlN1,tlN2,tlN3,tlN4,tlN5,tlN6,tlN7,tlN8,tlN9], labels:labelsN, smoothFrom:3,
    widths:[1.3,1.3,1.3,1.3,1.4,1.5,1.7,2.0,2.3,2.6], legW:[3,3,3,3,3,3,3,3.5,3.5,3.5],
    leg:{x:730.6,y:230,w:76.4,h:189.3,first:241.7,step:18.62,l0:736,l1:774,tx:777},
    yLabel:"Speed (m/s)", yLabelX:66, xLabelX:457, xLabelY:466, xPad:8,
    note:{text:"Speed", x:313, y:166, size:31} },
  { x0:973.4, x1:1758.8, y0:110, y1:428.3, yDom:[10,35], yTicks:speedTicksCacc,
    series:[leaderSpeed,trI1,trI2,trI3,trI4,trI5,trI6,trI7,trI8,trI9], labels:labelsI, smoothFrom:null,
    widths:[1.4,1.4,1.4,1.4,1.4,1.4,1.4,1.4,1.4,1.4], legW:[4,2.5,3,2.5,2.5,4,2.5,2.5,4,2.5],
    leg:{x:1678.5,y:199.3,w:68.5,h:215.7,first:213.3,step:21.1,l0:1686,l1:1722,tx:1724},
    yLabel:"Speed (m/s)", yLabelX:948, xLabelX:1366, xLabelY:468, xPad:12,
    note:{text:"Speed", x:1306, y:165, size:31} },
  { x0:89.2, x1:834, y0:501.7, y1:842, yDom:[-4,2], yTicks:accTicksPlatoon,
    series:[leaderAccel,blI1,blI2,blI3,blI4,blI5,blI6,blI7,blI8,blI9], labels:labelsI, smoothFrom:3,
    widths:[1.3,1.3,1.3,1.3,1.4,1.5,1.7,2.0,2.3,2.6], legW:[2.5,2.5,2.5,2.5,2.5,2.5,2.5,4,4,4],
    leg:{x:749.5,y:632,w:73.1,h:199,first:645.3,step:19.44,l0:756.4,l1:794,tx:796.7},
    yLabel:"Acceleration/Deceleration (m/s²)", yLabelX:64, xLabelX:460, xLabelY:879, xPad:11,
    note:{text:"Control input", x:417, y:681, size:32} },
  { x0:961.5, x1:1788.6, y0:501.7, y1:855, yDom:[-8,2], yTicks:accTicksCacc,
    series:[leaderAccel,brI1,brI2,brI3,brI4,brI5,brI6,brI7,brI8,brI9], labels:labelsI, smoothFrom:null,
    widths:[1.4,1.4,1.4,1.4,1.4,1.4,1.4,1.4,1.4,1.4], legW:[4,3,2.5,4,2.5,4,4,2.5,4,4],
    leg:{x:1699.3,y:646,w:77.4,h:197.7,first:658.7,step:19.33,l0:1706.5,l1:1745.7,tx:1748},
    yLabel:"Acceleration/Deceleration (m/s²)", yLabelX:935, xLabelX:1375, xLabelY:891, xPad:10,
    note:{text:"Control input", x:1321.5, y:658, size:32} }
];

function styleAxis(a){
  a.select(".domain").remove();
  a.selectAll("line").attr("stroke","#222").attr("stroke-width",1.8);
  a.selectAll("text").attr("fill","#333").style("font-size","11.5px").style("font-family",sans);
}

panels.forEach((p,idx)=>{
  const x = d3.scaleLinear().domain([0,45]).range([p.x0,p.x1]);
  const y = d3.scaleLinear().domain(p.yDom).range([p.y1,p.y0]);
  const g = svg.append("g");
  const cid = "clip"+idx;
  svg.append("clipPath").attr("id",cid).append("rect")
    .attr("x",p.x0).attr("y",p.y0).attr("width",p.x1-p.x0).attr("height",p.y1-p.y0);

  const lg = g.append("g").attr("clip-path",`url(#${cid})`);
  p.series.forEach((s,i)=>{
    const curve = (p.smoothFrom!==null && i>=p.smoothFrom) ? d3.curveMonotoneX : d3.curveLinear;
    const line = d3.line().x(d=>x(d[0])).y(d=>y(d[1])).curve(curve);
    lg.append("path").attr("d",line(s)).attr("fill","none")
      .attr("stroke",colors[i]).attr("stroke-width",p.widths[i])
      .attr("stroke-linejoin","round").attr("stroke-linecap","round");
  });

  // axes with inward ticks on all sides
  g.append("g").attr("transform",`translate(0,${p.y1})`)
    .call(d3.axisBottom(x).tickValues(timeTicks).tickSize(-8).tickPadding(p.xPad).tickFormat(d=>String(d))).call(styleAxis);
  g.append("g").attr("transform",`translate(0,${p.y0})`)
    .call(d3.axisTop(x).tickValues(timeTicks).tickSize(-8).tickFormat("")).call(styleAxis);
  g.append("g").attr("transform",`translate(${p.x0},0)`)
    .call(d3.axisLeft(y).tickValues(p.yTicks).tickSize(-8).tickPadding(6).tickFormat(d=>String(d))).call(styleAxis);
  g.append("g").attr("transform",`translate(${p.x1},0)`)
    .call(d3.axisRight(y).tickValues(p.yTicks).tickSize(-8).tickFormat("")).call(styleAxis);
  g.append("rect").attr("x",p.x0).attr("y",p.y0).attr("width",p.x1-p.x0).attr("height",p.y1-p.y0)
    .attr("fill","none").attr("stroke","#222").attr("stroke-width",2);

  // axis labels
  g.append("text").attr("x",p.xLabelX).attr("y",p.xLabelY).attr("text-anchor","middle")
    .style("font-family",sans).style("font-size","14px").attr("fill","#333").text("Time (s)");
  const yc = (p.y0+p.y1)/2;
  g.append("text").attr("transform",`translate(${p.yLabelX},${yc}) rotate(-90)`).attr("text-anchor","middle")
    .style("font-family",sans).style("font-size","13px").attr("fill","#333").text(p.yLabel);

  // annotation
  g.append("text").attr("x",p.note.x).attr("y",p.note.y)
    .style("font-family",serif).style("font-size",p.note.size+"px").attr("fill","#000").text(p.note.text);

  // legend
  const L = p.leg;
  g.append("rect").attr("x",L.x).attr("y",L.y).attr("width",L.w).attr("height",L.h)
    .attr("fill","none").attr("stroke","#222").attr("stroke-width",1.5);
  p.labels.forEach((lab,i)=>{
    const yy = L.first + i*L.step;
    g.append("line").attr("x1",L.l0).attr("x2",L.l1).attr("y1",yy).attr("y2",yy)
      .attr("stroke",colors[i]).attr("stroke-width",p.legW[i]);
    g.append("text").attr("x",L.tx).attr("y",yy+5).style("font-family",sans).style("font-size","14px")
      .attr("fill","#333").text(lab);
  });
});
</script>
</body>
</html>
